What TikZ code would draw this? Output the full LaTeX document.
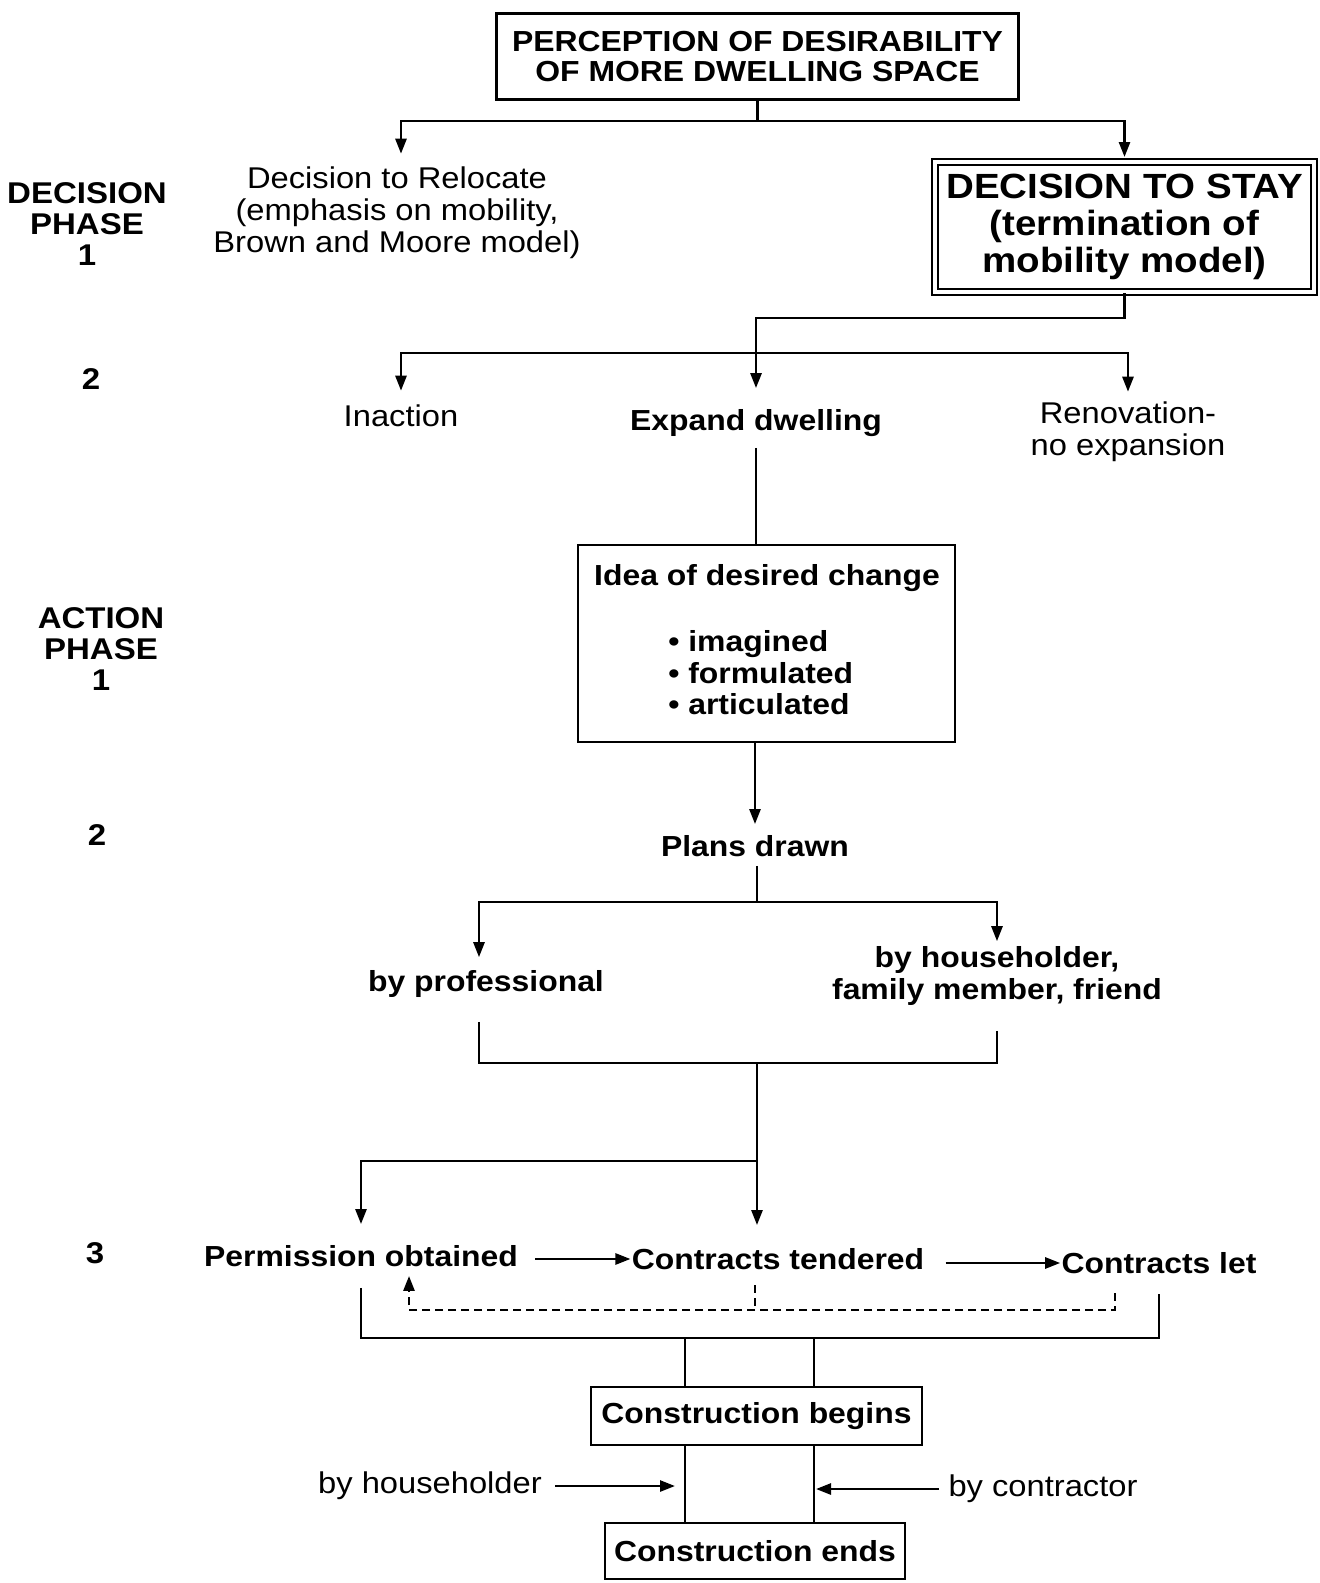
\documentclass[tikz,border=0pt]{standalone}
\usepackage{fontspec}
\setmainfont{Liberation Sans}[FakeStretch=1.1]
\newfontfamily\regfont{Liberation Sans}[FakeStretch=1.09]
\newfontfamily\lblfont{Liberation Sans}[FakeStretch=1.1]
\usetikzlibrary{arrows.meta}
\begin{document}
\begin{tikzpicture}[x=1pt,y=-1pt,line width=2.6pt,
  tip/.style={-{Triangle[length=15pt,width=11pt]}},
  bt/.style={font=\bfseries\fontsize{29}{32}\selectfont, align=center, inner sep=0pt},
  rt/.style={font=\regfont\fontsize{30}{32}\selectfont, align=center, inner sep=0pt},
  lt/.style={font=\lblfont\bfseries\fontsize{30}{31}\selectfont, align=center, inner sep=0pt},
  bx/.style={draw, line width=2.6pt, inner sep=0pt},
  dsh/.style={dash pattern=on 8pt off 5pt},
]
\useasboundingbox (0,0) rectangle (1320,1583);

% ---- left labels
\node[lt] (lab1) at (87,224) {DECISION\\PHASE\\1};
\node[lt] (lab2) at (91,379) {2};
\node[lt] (lab3) at (101,649) {ACTION\\PHASE\\1};
\node[lt] (lab4) at (97,835) {2};
\node[lt] (lab5) at (95,1253) {3};

% ---- top
\node[bx,bt,minimum width=522pt,minimum height=86pt] (top) at (757.5,56.5)
  {\raisebox{-2pt}{PERCEPTION OF DESIRABILITY}\\OF MORE DWELLING SPACE};
\node[rt] (reloc) at (397,213) {Decision to Relocate\\(emphasis on mobility,\\Brown and Moore model)};
\node[draw,double,line width=2pt,double distance=4pt,inner sep=0pt,
  font=\bfseries\fontsize{35}{37}\selectfont,align=center,
  minimum width=379pt,minimum height=130pt] (stay) at (1124.5,227)
  {DECISION TO STAY\\(termination of\\mobility model)};

\coordinate (j1) at (760,121);
\draw (top.south) -- (top.south |- j1);
\draw[tip,shorten >=12pt] (top.south |- j1) -| ([xshift=4pt]reloc.north);
\draw[tip,shorten >=4pt] (top.south |- j1) -| (stay.north);

% ---- second branching
\node[rt] (inaction) at (401,416) {Inaction};
\node[bt] (expand) at (756,423) {Expand dwelling};
\node[rt] (reno) at (1128,432) {Renovation-\\no expansion};

\coordinate (j2) at (756,353);
\draw (stay.south) -- (stay.south |- 0,318) -| (j2);
\draw[tip,shorten >=13pt] (j2) -| (inaction.north);
\draw[tip,shorten >=20pt] (j2) -- (expand.north);
\draw[tip,shorten >=9pt] (j2) -| (reno.north);

% ---- idea box
\node[bx,minimum width=377pt,minimum height=197pt] (idea) at (766.5,643.5) {};
\node[bt] (idea0) at (767,578) {Idea of desired change};
\node[bt,anchor=base west] (idea1) at (667,651) {• imagined};
\node[bt,anchor=base west] (idea2) at (667,683) {• formulated};
\node[bt,anchor=base west] (idea3) at (667,714) {• articulated};
\draw[shorten <=10pt] (expand.south) -- (expand.south |- idea.north);

% ---- plans
\node[bt] (plans) at (755,846) {Plans drawn};
\draw[tip,shorten >=10pt] (idea.south -| plans.north) -- (plans.north);

\node[bt] (prof) at (486,984) {by professional};
\node[bt] (hh) at (997,976) {by householder,\\family member, friend};
\coordinate (j3) at (757,902);
\draw[shorten <=8pt] (plans.south -| j3) -- (j3);
\draw[tip,shorten >=12pt] (j3) -| ([xshift=-7pt]prof.north);
\draw[tip,shorten >=4pt] (j3) -| (hh.north);

\coordinate (j4) at (757,1063);
\draw ([xshift=-7pt,yshift=-23pt]prof.south) |- (j4);
\draw ([yshift=-24pt]hh.south) |- (j4);

% ---- permission / contracts
\node[bt] (perm) at (361,1256) {Permission obtained};
\node[bt] (tend) at (778,1259) {Contracts tendered};
\node[bt] (let) at (1159,1263) {Contracts let};

\coordinate (j5) at (757,1161);
\draw[tip,shorten >=22pt] (j4) -- (j4 |- tend.north);
\draw[tip,shorten >=20pt] (j5) -| (perm.north);
\draw[tip,shorten <=16pt] (perm.east |- tend.west) -- (tend.west);
\draw[tip,shorten <=20pt] (tend.east |- let.west) -- (let.west);

% dashed feedback
\coordinate (dR) at (1115,1293);
\coordinate (dL) at (409,1310);
\coordinate (dM) at (755,1285);
\draw[dsh,tip,shorten >=8pt] (dR) |- (dL) -- (dL |- perm.south);
\draw[dsh] (dM) -- (dM |- dL);

% bracket
\coordinate (bk) at (757,1338);
\draw ([yshift=-20pt]perm.south) -- (perm.south |- bk) -- (let.south |- bk) -- ([yshift=-19pt]let.south);

% ---- construction
\node[bx,bt,minimum width=331pt,minimum height=58pt] (begin) at (756.5,1416) {Construction begins};
\node[bx,bt,minimum width=300pt,minimum height=56pt] (ends) at (755,1551) {Construction ends};
\coordinate (cL) at (685,1338);
\coordinate (cR) at (814,1338);
\draw (cL) -- (cL |- begin.north);
\draw (cR) -- (cR |- begin.north);
\draw (begin.south -| cL) -- (cL |- ends.north);
\draw (begin.south -| cR) -- (cR |- ends.north);

\node[rt] (byh) at (430,1486) {by householder};
\node[rt] (byc) at (1043,1489) {by contractor};
\draw[tip,shorten <=12pt,shorten >=10pt] (byh.east) -- (byh.east -| cL);
\draw[tip,shorten <=8pt,shorten >=2pt] (byc.west) -- (byc.west -| cR);
\end{tikzpicture}
\end{document}
